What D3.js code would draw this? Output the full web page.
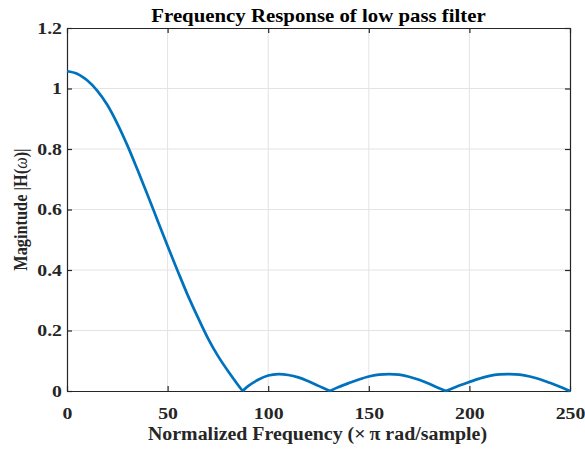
<!DOCTYPE html>
<html>
<head>
<meta charset="utf-8">
<script src="https://cdn.jsdelivr.net/npm/d3@7"></script>
<style>
  html, body { margin: 0; padding: 0; background: #fff; }
  svg { display: block; }
  text { font-family: "Liberation Serif", "Times New Roman", serif; font-weight: bold; }
</style>
</head>
<body>
<svg id="chart" width="585" height="450"></svg>
<script>
// Magnitude response samples (frequency, |H(ω)|)
const freq = [0, 5, 10, 15, 20, 25, 30, 35, 40, 45, 50, 55, 60, 65, 70, 75, 80, 85, 87.3,
  90, 95, 100, 105, 110, 115, 120, 125, 130.7,
  135, 140, 145, 150, 155, 160, 165, 170, 175, 180, 185, 188.4,
  195, 200, 205, 210, 215, 220, 225, 230, 235, 240, 245, 250];
const magnitude = [1.057, 1.049, 1.027, 0.993, 0.946, 0.884, 0.812, 0.732, 0.649, 0.564, 0.479, 0.397, 0.317, 0.244, 0.175, 0.116, 0.066, 0.020, 0,
  0.016, 0.037, 0.051, 0.056, 0.053, 0.045, 0.032, 0.017, 0,
  0.013, 0.026, 0.038, 0.048, 0.054, 0.056, 0.054, 0.047, 0.037, 0.024, 0.009, 0,
  0.018, 0.030, 0.041, 0.050, 0.055, 0.056, 0.054, 0.048, 0.039, 0.027, 0.014, 0];

const xTicks = [0, 50, 100, 150, 200, 250];
const xTickLabels = ["0", "50", "100", "150", "200", "250"];
const yTicks = [0, 0.2, 0.4, 0.6, 0.8, 1, 1.2];
const yTickLabels = ["0", "0.2", "0.4", "0.6", "0.8", "1", "1.2"];

const titleText = "Frequency Response of low pass filter";
const xLabelText = "Normalized Frequency (\u00D7\u2009\u03C0 rad/sample)";

const margin = { left: 67, right: 15, top: 28, bottom: 59 };
const W = 585, H = 450;
const innerW = W - margin.left - margin.right;
const innerH = H - margin.top - margin.bottom;

const svg = d3.select("#chart");
const g = svg.append("g").attr("transform", `translate(${margin.left},${margin.top})`);

const x = d3.scaleLinear().domain([0, 250]).range([0, innerW]);
const y = d3.scaleLinear().domain([0, 1.2]).range([innerH, 0]);

const axisColor = "#262626";
const gridColor = "#e3e3e3";
const tickFont = 16.5, labelFont = 18.6, yLabelFont = 16.3;
const tickStretch = 1.2, labelStretch = 1.07, titleStretch = 1.12;

// Grid lines
g.append("g").selectAll("line").data(xTicks.slice(1, -1)).join("line")
  .attr("x1", d => x(d)).attr("x2", d => x(d))
  .attr("y1", 0).attr("y2", innerH)
  .attr("stroke", gridColor).attr("stroke-width", 1);
g.append("g").selectAll("line").data(yTicks.slice(1, -1)).join("line")
  .attr("y1", d => y(d)).attr("y2", d => y(d))
  .attr("x1", 0).attr("x2", innerW)
  .attr("stroke", gridColor).attr("stroke-width", 1);

// Axes (ticks pointing inward on all four sides)
const tickLen = 5;
const xAxisBottom = d3.axisBottom(x).tickValues(xTicks).tickSizeInner(-tickLen).tickSizeOuter(0)
  .tickFormat((d, i) => xTickLabels[i]);
const xAxisTop = d3.axisTop(x).tickValues(xTicks).tickSizeInner(-tickLen).tickSizeOuter(0).tickFormat("");
const yAxisLeft = d3.axisLeft(y).tickValues(yTicks).tickSizeInner(-tickLen).tickSizeOuter(0)
  .tickFormat((d, i) => yTickLabels[i]);
const yAxisRight = d3.axisRight(y).tickValues(yTicks).tickSizeInner(-tickLen).tickSizeOuter(0).tickFormat("");

function styleAxis(sel) {
  sel.select(".domain").attr("stroke", axisColor).attr("stroke-width", 1.2);
  sel.selectAll(".tick line").attr("stroke", axisColor).attr("stroke-width", 1.2);
  sel.selectAll(".tick text").attr("fill", axisColor)
    .style("font-size", tickFont + "px")
    .style("font-family", '"Liberation Serif", "Times New Roman", serif')
    .style("font-weight", "bold");
}

g.append("g").attr("transform", `translate(0,${innerH})`).call(xAxisBottom).call(styleAxis)
  .selectAll(".tick text")
  .attr("x", 0).attr("y", 0).attr("dy", null)
  .attr("transform", `translate(0,28) scale(${tickStretch},1)`);
g.append("g").call(xAxisTop).call(styleAxis);
g.append("g").call(yAxisLeft).call(styleAxis)
  .selectAll(".tick text")
  .attr("x", 0)
  .attr("transform", `translate(-5,0) scale(${tickStretch},1)`);
g.append("g").attr("transform", `translate(${innerW},0)`).call(yAxisRight).call(styleAxis);

// Response curve, drawn lobe by lobe so the nulls stay sharp
const pts = freq.map((f, i) => ({ f, m: magnitude[i] }));
const lobes = [];
let cur = [];
pts.forEach((p, i) => {
  cur.push(p);
  if (p.m === 0 && i > 0 && i < pts.length - 1) {
    lobes.push(cur);
    cur = [p];
  }
});
lobes.push(cur);

const line = d3.line().x(d => x(d.f)).y(d => y(d.m)).curve(d3.curveCatmullRom.alpha(0.5));
g.append("g").selectAll("path").data(lobes).join("path")
  .attr("d", line)
  .attr("fill", "none")
  .attr("stroke", "#0072BD")
  .attr("stroke-width", 2.7)
  .attr("stroke-linejoin", "round");

// Title
svg.append("text")
  .attr("transform", `translate(${margin.left + innerW / 2},21.5) scale(${titleStretch},1)`)
  .attr("text-anchor", "middle")
  .attr("fill", "#000")
  .style("font-size", labelFont + "px")
  .text(titleText);

// X label
svg.append("text")
  .attr("transform", `translate(${margin.left + innerW / 2 - 1},440) scale(${labelStretch},1)`)
  .attr("text-anchor", "middle")
  .attr("fill", axisColor)
  .style("font-size", labelFont + "px")
  .text(xLabelText);

// Y label with italic omega
const yl = svg.append("text")
  .attr("transform", `translate(27,${margin.top + innerH / 2}) scale(${tickStretch},1) rotate(-90)`)
  .attr("text-anchor", "middle")
  .attr("fill", axisColor)
  .style("font-size", yLabelFont + "px");
yl.append("tspan").text("Magintude |H(");
yl.append("tspan").style("font-style", "italic").style("font-weight", "normal").text("\u03C9");
yl.append("tspan").text(")|");
</script>
</body>
</html>
